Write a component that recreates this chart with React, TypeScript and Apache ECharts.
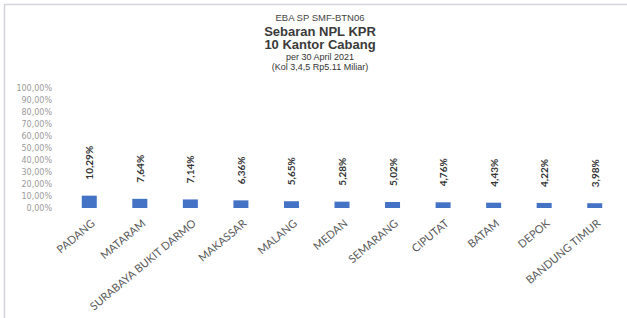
import React, { useEffect, useRef } from "react";
import * as echarts from "echarts";

const categories = [
  "PADANG",
  "MATARAM",
  "SURABAYA BUKIT DARMO",
  "MAKASSAR",
  "MALANG",
  "MEDAN",
  "SEMARANG",
  "CIPUTAT",
  "BATAM",
  "DEPOK",
  "BANDUNG TIMUR",
];
const nplValues = [10.29, 7.64, 7.14, 6.36, 5.65, 5.28, 5.02, 4.76, 4.43, 4.22, 3.98];
const titleLines = [
  "EBA SP SMF-BTN06",
  "Sebaran NPL KPR",
  "10 Kantor Cabang",
  "per 30 April 2021",
  "(Kol 3,4,5 Rp5.11 Miliar)",
];

const fmt = (v: number) => v.toFixed(2).replace(".", ",") + "%";

export default function App() {
  const ref = useRef<HTMLDivElement>(null);
  useEffect(() => {
    if (!ref.current) return;
    const chart = echarts.init(ref.current, undefined, { renderer: "svg" });
    const f = "Liberation Sans";
    chart.setOption({
      animation: false,
      backgroundColor: "#ffffff",
      title: {
        text: `{a|${titleLines[0]}}\n{b1|${titleLines[1]}}\n{b2|${titleLines[2]}}\n{c1|${titleLines[3]}}\n{c2|${titleLines[4]}}`,
        left: 320,
        top: 11,
        padding: 0,
        textAlign: "center",
        textStyle: {
          fontWeight: "normal",
          rich: {
            a: { fontFamily: f, fontSize: 9.5, fontWeight: "normal", color: "#444", lineHeight: 13, align: "center" },
            b1: { fontFamily: f, fontSize: 13, fontWeight: "bold", color: "#3a3a3a", lineHeight: 14, align: "center" },
            b2: { fontFamily: f, fontSize: 13, fontWeight: "bold", color: "#3a3a3a", lineHeight: 13, align: "center" },
            c1: { fontFamily: f, fontSize: 9, fontWeight: "normal", color: "#333", lineHeight: 11, align: "center" },
            c2: { fontFamily: f, fontSize: 9, fontWeight: "normal", color: "#333", lineHeight: 10, align: "center" },
          },
        },
      },
      graphic: [
        { type: "line", shape: { x1: 4, y1: 4.5, x2: 627, y2: 4.5 }, style: { stroke: "#d4d4dc", lineWidth: 1.5 } },
        { type: "line", shape: { x1: 4.5, y1: 4, x2: 4.5, y2: 318 }, style: { stroke: "#d4d4dc", lineWidth: 1.5 } },
      ],
      grid: { left: 64, right: 7, top: 88, bottom: 110 },
      xAxis: {
        type: "category",
        data: categories,
        axisLine: { show: false },
        axisTick: { show: false },
        axisLabel: {
          interval: 0,
          rotate: 40,
          margin: 9,
          verticalAlign: "top",
          fontFamily: "Lato",
          fontSize: 11,
          color: "#595959",
        },
      },
      yAxis: {
        type: "value",
        min: 0,
        max: 100,
        interval: 10,
        splitLine: { show: false },
        axisLine: { show: false },
        axisTick: { show: false },
        axisLabel: {
          margin: 12,
          fontFamily: "DejaVu Sans",
          fontSize: 8,
          color: "#9a9a9a",
          formatter: (v: number) => fmt(v),
        },
      },
      series: [
        {
          type: "bar",
          data: nplValues,
          barWidth: 15,
          itemStyle: { color: "#4472C4" },
          label: {
            show: true,
            position: "top",
            rotate: 90,
            align: "left",
            verticalAlign: "middle",
            distance: 16,
            fontFamily: "Lato",
            fontSize: 10,
            fontWeight: "bold",
            color: "#333",
            formatter: (p: any) => fmt(p.value),
          },
        },
      ],
    });
    return () => chart.dispose();
  }, []);
  return (
    <div
      ref={ref}
      style={{ position: "fixed", left: 0, top: 0, width: 627, height: 318 }}
    />
  );
}
